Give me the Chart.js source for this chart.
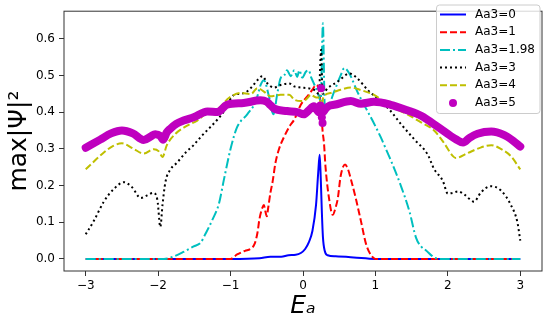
<!DOCTYPE html>
<html lang="en">
<head>
<meta charset="UTF-8" />
<title>max|Ψ|² vs Ea</title>
<style>
  html, body { margin: 0; padding: 0; background: #fff; }
  #wrap { width: 546px; height: 322px; position: relative; }
</style>
</head>
<body>
<div id="wrap"><canvas id="myChart"></canvas></div>
<script src="https://cdn.jsdelivr.net/npm/chart.js@4.4.1/dist/chart.umd.min.js"></script>
<script>
// tick values
const xTicks = [-3, -2, -1, 0, 1, 2, 3];
const yTicks = [0, 0.1, 0.2, 0.3, 0.4, 0.5, 0.6];

// Aa3=0
const x0 = [-3, -1.0, -0.6, -0.45, -0.3, -0.2, -0.1, -0.03, 0.03, 0.08, 0.13, 0.18, 0.21, 0.23, 0.245, 0.26, 0.275, 0.3, 0.34, 0.45, 0.7, 1.0, 3];
const y0 = [0, 0, 0.002, 0.006, 0.006, 0.01, 0.011, 0.016, 0.027, 0.045, 0.076, 0.147, 0.235, 0.284, 0.22, 0.13, 0.06, 0.022, 0.01, 0.007, 0.004, 0, 0];

// Aa3=1
const x1 = [-3, -1.0, -0.91, -0.8, -0.72, -0.67, -0.63, -0.6, -0.56, -0.54, -0.52, -0.5, -0.48, -0.45, -0.42, -0.38, -0.33, -0.26, -0.19, -0.12, -0.03, 0.06, 0.13, 0.18, 0.22, 0.25, 0.27, 0.29, 0.31, 0.36, 0.41, 0.45, 0.48, 0.52, 0.58, 0.62, 0.66, 0.73, 0.8, 0.87, 0.94, 1.0, 3];
const y1 = [0, 0, 0.012, 0.022, 0.028, 0.04, 0.07, 0.11, 0.14, 0.147, 0.13, 0.116, 0.14, 0.18, 0.21, 0.262, 0.3, 0.333, 0.36, 0.38, 0.42, 0.443, 0.461, 0.474, 0.46, 0.41, 0.35, 0.315, 0.253, 0.164, 0.12, 0.14, 0.164, 0.226, 0.257, 0.245, 0.218, 0.164, 0.103, 0.041, 0.01, 0, 0];

// Aa3=1.98
const x198 = [-3, -1.92, -1.78, -1.65, -1.51, -1.41, -1.35, -1.25, -1.16, -1.09, -1.0, -0.91, -0.77, -0.65, -0.585, -0.54, -0.47, -0.41, -0.35, -0.31, -0.26, -0.22, -0.17, -0.12, -0.08, -0.05, -0.01, 0.04, 0.08, 0.11, 0.15, 0.2, 0.245, 0.275, 0.3, 0.34, 0.43, 0.52, 0.57, 0.64, 0.75, 0.84, 0.96, 1.07, 1.17, 1.21, 1.35, 1.47, 1.56, 1.63, 1.7, 1.81, 1.9, 3];
const y198 = [0, 0, 0.007, 0.019, 0.034, 0.045, 0.067, 0.107, 0.151, 0.218, 0.3, 0.359, 0.394, 0.43, 0.474, 0.487, 0.443, 0.394, 0.456, 0.492, 0.5, 0.514, 0.498, 0.514, 0.496, 0.514, 0.494, 0.51, 0.514, 0.496, 0.478, 0.456, 0.43, 0.642, 0.42, 0.416, 0.456, 0.5, 0.52, 0.505, 0.456, 0.421, 0.377, 0.333, 0.288, 0.27, 0.2, 0.129, 0.058, 0.034, 0.023, 0.004, 0, 0];

// Aa3=3
const x3 = [-3, -2.89, -2.75, -2.61, -2.47, -2.36, -2.24, -2.15, -2.07, -2.01, -1.97, -1.94, -1.9, -1.83, -1.74, -1.62, -1.51, -1.4, -1.28, -1.18, -1.09, -1.02, -0.95, -0.86, -0.79, -0.7, -0.63, -0.56, -0.49, -0.4, -0.31, -0.19, -0.12, -0.03, 0.07, 0.15, 0.22, 0.25, 0.27, 0.3, 0.34, 0.48, 0.64, 0.75, 0.89, 1.07, 1.21, 1.35, 1.54, 1.72, 1.81, 1.93, 2.0, 2.07, 2.14, 2.23, 2.36, 2.46, 2.59, 2.73, 2.87, 2.96, 3.0];
const y3 = [0.067, 0.103, 0.156, 0.191, 0.209, 0.195, 0.166, 0.173, 0.18, 0.16, 0.087, 0.147, 0.209, 0.244, 0.262, 0.29, 0.31, 0.335, 0.359, 0.38, 0.403, 0.43, 0.447, 0.45, 0.454, 0.47, 0.487, 0.498, 0.478, 0.467, 0.474, 0.478, 0.47, 0.467, 0.465, 0.461, 0.45, 0.57, 0.45, 0.455, 0.465, 0.483, 0.505, 0.492, 0.461, 0.43, 0.403, 0.368, 0.325, 0.285, 0.245, 0.213, 0.178, 0.18, 0.184, 0.175, 0.156, 0.182, 0.198, 0.187, 0.147, 0.1, 0.05];

// Aa3=4
const x4 = [-3, -2.75, -2.62, -2.5, -2.34, -2.2, -2.06, -1.99, -1.94, -1.88, -1.76, -1.6, -1.46, -1.32, -1.18, -1.02, -0.86, -0.72, -0.63, -0.54, -0.45, -0.31, -0.19, -0.12, -0.03, 0.04, 0.11, 0.18, 0.23, 0.25, 0.28, 0.38, 0.52, 0.66, 0.8, 0.98, 1.21, 1.44, 1.63, 1.81, 1.95, 2.07, 2.11, 2.27, 2.46, 2.6, 2.73, 2.87, 3.0];
const y4 = [0.244, 0.29, 0.308, 0.315, 0.3, 0.287, 0.299, 0.293, 0.278, 0.31, 0.341, 0.363, 0.377, 0.399, 0.408, 0.439, 0.452, 0.449, 0.465, 0.456, 0.443, 0.447, 0.447, 0.434, 0.43, 0.434, 0.447, 0.44, 0.44, 0.4, 0.44, 0.452, 0.461, 0.467, 0.46, 0.447, 0.416, 0.394, 0.372, 0.35, 0.315, 0.28, 0.275, 0.288, 0.304, 0.31, 0.3, 0.28, 0.244];

// Aa3=5 (dots); spike samples around Ea=0.25 stand alone
const x5 = [-3, -2.8, -2.65, -2.5, -2.35, -2.2, -2.1, -2.04, -1.97, -1.93, -1.88, -1.83, -1.75, -1.65, -1.51, -1.32, -1.18, -1.05, -0.82, -0.585, -0.5, -0.47, -0.4, -0.22, -0.08, 0.01, 0.08, 0.15, 0.22, 0.24, 0.25, 0.26, 0.27, 0.29, 0.43, 0.66, 0.8, 0.98, 1.21, 1.44, 1.63, 1.86, 2.04, 2.12, 2.21, 2.3, 2.41, 2.6, 2.78, 2.9, 3.0];
const y5 = [0.303, 0.325, 0.342, 0.35, 0.342, 0.324, 0.334, 0.34, 0.335, 0.325, 0.345, 0.355, 0.368, 0.377, 0.386, 0.402, 0.4, 0.42, 0.425, 0.432, 0.428, 0.423, 0.41, 0.403, 0.4, 0.394, 0.405, 0.416, 0.4, 0.418, 0.465, 0.386, 0.37, 0.403, 0.42, 0.43, 0.423, 0.428, 0.42, 0.405, 0.39, 0.36, 0.335, 0.325, 0.317, 0.33, 0.341, 0.347, 0.337, 0.322, 0.306];
const spike5 = [0.24, 0.25, 0.26, 0.27];

const labels = ["Aa3=0", "Aa3=1", "Aa3=1.98", "Aa3=3", "Aa3=4", "Aa3=5"];
const colors = ["#0000ff", "#ff0000", "#00bfbf", "#000000", "#bfbf00", "#bf00bf"];
const dashes = [[], [7, 3], [10, 3, 2, 3], [2, 3], [7, 3], []];

function pts(xs, ys) {
  return xs.map((x, i) => ({ x: x, y: ys[i] }));
}

const series = [pts(x0, y0), pts(x1, y1), pts(x198, y198), pts(x3, y3), pts(x4, y4), pts(x5, y5)];

const isSpike = (x) => spike5.includes(x);

const datasets = series.map((d, i) => ({
  label: labels[i],
  data: d,
  borderColor: colors[i],
  backgroundColor: colors[i],
  borderWidth: 2,
  borderDash: dashes[i],
  pointRadius: 0,
  cubicInterpolationMode: "monotone",
  order: 5 - i,
}));

// magenta one is a thick trail of markers
Object.assign(datasets[5], {
  borderWidth: 8,
  borderCapStyle: "round",
  borderJoinStyle: "round",
  pointRadius: (ctx) => (ctx.raw && isSpike(ctx.raw.x) ? 4 : 0),
  pointBorderWidth: 0,
  segment: {
    borderColor: (ctx) =>
      isSpike(ctx.p0.parsed.x) || isSpike(ctx.p1.parsed.x) ? "rgba(0,0,0,0)" : undefined,
  },
});

const frame = {
  id: "frame",
  afterDatasetsDraw(chart) {
    const { ctx, chartArea: a } = chart;
    ctx.save();
    ctx.strokeStyle = "#333";
    ctx.lineWidth = 1;
    ctx.strokeRect(a.left, a.top, a.right - a.left, a.bottom - a.top);
    ctx.restore();
  },
};

const boxLegend = {
  id: "boxLegend",
  afterDraw(chart) {
    const ctx = chart.ctx;
    const bx = 436.5, by = 5, bw = 103.5, bh = 108.5;
    ctx.save();
    ctx.beginPath();
    ctx.roundRect(bx, by, bw, bh, 3);
    ctx.fillStyle = "rgba(255,255,255,0.8)";
    ctx.fill();
    ctx.strokeStyle = "#cccccc";
    ctx.lineWidth = 1;
    ctx.stroke();
    ctx.font = "12px 'DejaVu Sans'";
    ctx.textBaseline = "middle";
    ctx.fillStyle = "#000";
    labels.forEach((lab, i) => {
      const y = 14.5 + i * 17.7;
      if (i === 5) {
        ctx.beginPath();
        ctx.arc(453, y, 4, 0, Math.PI * 2);
        ctx.fillStyle = colors[i];
        ctx.fill();
      } else {
        ctx.beginPath();
        ctx.setLineDash(dashes[i]);
        ctx.strokeStyle = colors[i];
        ctx.lineWidth = 2;
        ctx.moveTo(440, y);
        ctx.lineTo(466, y);
        ctx.stroke();
        ctx.setLineDash([]);
      }
      ctx.fillStyle = "#000";
      ctx.fillText(lab, 475, y);
    });
    ctx.restore();
  },
};

const tickFont = { family: "DejaVu Sans", size: 12 };

new Chart(document.getElementById("myChart"), {
  type: "line",
  data: { datasets: datasets },
  options: {
    responsive: true,
    maintainAspectRatio: false,
    animation: false,
    layout: { padding: { top: 4, right: 4, left: 0, bottom: 0 } },
    plugins: { legend: { display: false }, tooltip: { enabled: false } },
    scales: {
      x: {
        type: "linear",
        min: -3.3,
        max: 3.3,
        afterBuildTicks: (s) => { s.ticks = xTicks.map((v) => ({ value: v })); },
        afterFit: (s) => { s.height = 51; },
        grid: { drawOnChartArea: false, drawTicks: true, tickLength: 5, tickColor: "#333" },
        border: { display: false },
        ticks: {
          font: tickFont,
          color: "#000",
          padding: 3,
          maxRotation: 0,
          callback: (v) => (v < 0 ? "\u2212" + Math.abs(v) : String(v)),
        },
        title: {
          display: true,
          text: "E\u2090",
          font: { family: "DejaVu Sans", size: 25, style: "italic" },
          color: "#000",
          padding: { top: 0, bottom: 1 },
        },
      },
      y: {
        type: "linear",
        min: -0.033,
        max: 0.675,
        afterBuildTicks: (s) => { s.ticks = yTicks.map((v) => ({ value: v })); },
        afterFit: (s) => { s.width = 64; },
        grid: { drawOnChartArea: false, drawTicks: true, tickLength: 5, tickColor: "#333" },
        border: { display: false },
        ticks: {
          font: tickFont,
          color: "#000",
          padding: 4,
          callback: (v) => v.toFixed(1),
        },
        title: {
          display: true,
          text: "max|\u03A8|\u00B2",
          font: { family: "DejaVu Sans", size: 25 },
          color: "#000",
          padding: { top: 4, bottom: 0 },
        },
      },
    },
  },
  plugins: [frame, boxLegend],
});
</script>
</body>
</html>
